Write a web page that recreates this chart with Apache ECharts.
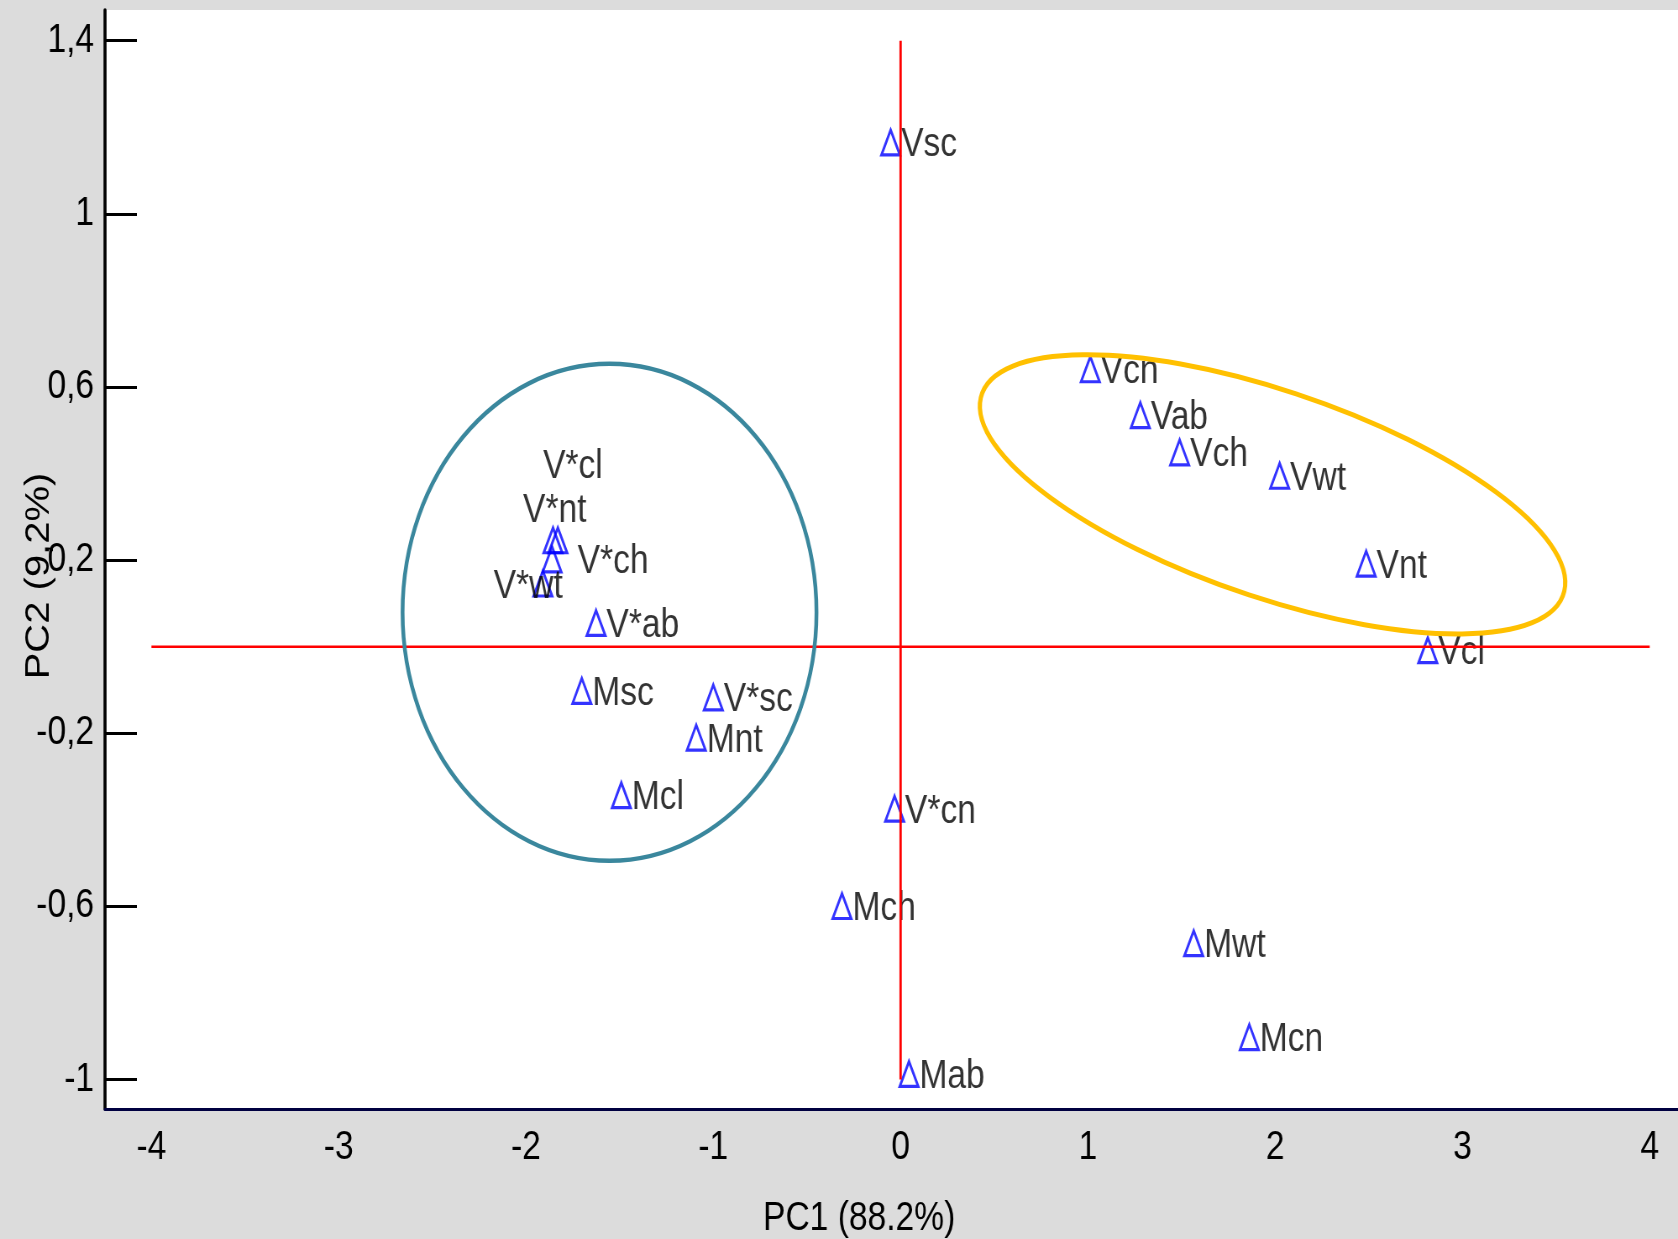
<!DOCTYPE html>
<html><head><meta charset="utf-8">
<script src="https://cdn.jsdelivr.net/npm/echarts@6/dist/echarts.min.js"></script>
<style>
html,body{margin:0;padding:0;background:#dcdcdc;overflow:hidden;}
#c{width:1998px;height:1239px;transform:scaleX(0.83984);transform-origin:0 0;}
</style>
</head><body><div id="c"></div>
<script>
// ---- data ----
const names = ['Vsc','Vcn','Vab','Vch','Vwt','Vnt','Vcl',
  'V*cl','V*nt','V*ch','V*wt','V*ab','Msc','V*sc','Mnt','Mcl',
  'V*cn','Mch','Mwt','Mcn','Mab'];
const pc1 = [-0.053, 1.013, 1.280, 1.490, 2.024, 2.486, 2.815,
  -1.830, -1.856, -1.861, -1.910, -1.626, -1.702, -1.000, -1.091, -1.491,
  -0.032, -0.313, 1.565, 1.862, 0.045];
const pc2 = [1.165, 0.641, 0.535, 0.449, 0.395, 0.192, -0.008,
  0.246, 0.246, 0.202, 0.146, 0.055, -0.102, -0.117, -0.210, -0.343,
  -0.374, -0.599, -0.685, -0.902, -0.987];
const xTicks = [-4, -3, -2, -1, 0, 1, 2, 3, 4];
const yTicks = [-1, -0.6, -0.2, 0.2, 0.6, 1, 1.4];
const zeroH = [[-4, 0], [4, 0]];
const zeroV = [[0, -1], [0, 1.4]];
// group ellipses: centre x, centre y, semi-axis (x units), semi-axis (y units), tilt in degrees
const ellipseTeal = [-1.554, 0.0795, 1.105, 0.574, 0];
const ellipseGold = [1.986, 0.352, 1.617, 0.2412, -15.57];

// ---- styling ----
const FONT = "'Liberation Sans', Arial, sans-serif";
const labelShift = { 'V*cl': [-30, -73], 'V*nt': [-48, -29], 'V*ch': [18, 3], 'V*wt': [-71, 3] };

const points = names.map((n, i) => {
  const item = { name: n, value: [pc1[i], pc2[i]] };
  if (labelShift[n]) item.label = { offset: labelShift[n] };
  return item;
});

function ellipseSeries(e, color, width) {
  return {
    type: 'custom', z: 5, silent: true, clip: false,
    data: [e],
    renderItem: function (params, api) {
      const c = api.coord([api.value(0), api.value(1)]);
      const rx = api.size([api.value(2), 0])[0];
      const ry = api.size([0, api.value(3)])[1];
      return {
        type: 'ellipse', x: c[0], y: c[1], rotation: api.value(4) * Math.PI / 180,
        shape: { cx: 0, cy: 0, rx: rx, ry: ry },
        style: { fill: 'none', stroke: color, lineWidth: width }
      };
    }
  };
}

const chart = echarts.init(document.getElementById('c'), null, { renderer: 'canvas' });
chart.setOption({
  backgroundColor: '#dcdcdc',
  animation: false,
  grid: { left: 125, top: 10, right: 0, bottom: 130, show: true, backgroundColor: '#ffffff',
    borderWidth: 0, outerBoundsMode: 'none', containLabel: false },
  xAxis: {
    type: 'value', min: -4.248, max: 4.151,
    axisLine: { show: true, onZero: false, lineStyle: { color: '#000040', width: 3 } },
    axisTick: { show: false },
    splitLine: { show: false },
    axisLabel: { customValues: xTicks, color: '#000', fontSize: 40, fontFamily: FONT, margin: 19 },
    name: 'PC1 (88.2%)', nameLocation: 'middle', nameGap: 90, nameMoveOverlap: false,
    nameTextStyle: { color: '#000', fontSize: 40, fontFamily: FONT, padding: [0, 77, 0, 0] }
  },
  yAxis: {
    type: 'value', min: -1.068, max: 1.471,
    axisLine: { show: true, onZero: false, lineStyle: { color: '#000', width: 3.6 } },
    axisTick: { show: true, inside: true, length: 38, customValues: yTicks, lineStyle: { color: '#000', width: 3 } },
    splitLine: { show: false },
    axisLabel: { customValues: yTicks, color: '#000', fontSize: 40, fontFamily: FONT, margin: 13,
      formatter: v => String(v).replace('.', ',') },
    name: 'PC2 (9,2%)', nameLocation: 'middle', nameGap: 58, nameRotate: 90, nameMoveOverlap: false,
    nameTextStyle: { color: '#000', fontSize: 40, fontFamily: FONT, padding: [0, 33, 0, 0] }
  },
  series: [
    {
      type: 'scatter', z: 3, data: points,
      symbol: 'triangle', symbolSize: [22, 25],
      itemStyle: { color: 'rgba(0,0,0,0)', borderColor: '#0000ff', borderWidth: 3 },
      label: { show: true, position: 'right', distance: 0, offset: [0, 3], formatter: '{b}',
        color: '#000', fontSize: 40, fontFamily: FONT }
    },
    { type: 'line', z: 4, data: zeroH, symbol: 'none', silent: true, lineStyle: { color: '#ff0000', width: 2.5 } },
    { type: 'line', z: 4, data: zeroV, symbol: 'none', silent: true, lineStyle: { color: '#ff0000', width: 2.8 } },
    ellipseSeries(ellipseTeal, '#3a879d', 4.5),
    ellipseSeries(ellipseGold, '#ffc000', 5)
  ]
});
</script></body></html>
